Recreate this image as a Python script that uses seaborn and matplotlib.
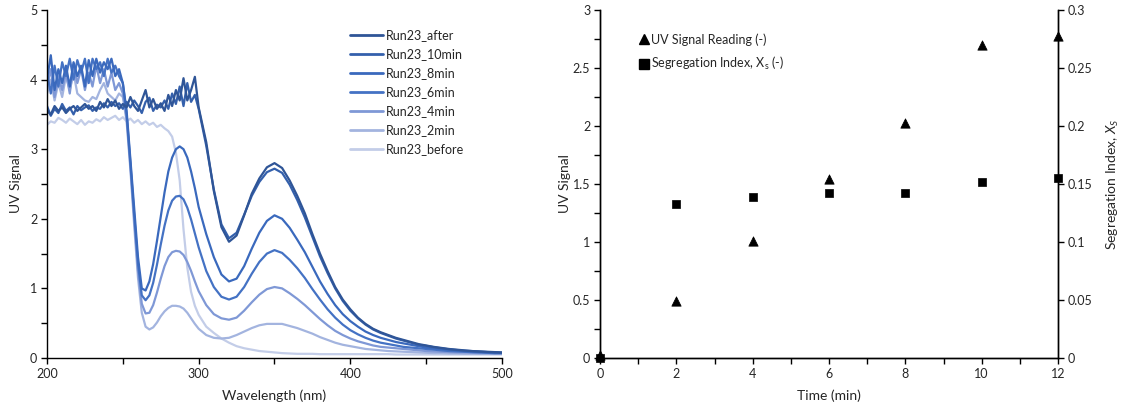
import numpy as np
import pandas as pd
import matplotlib
matplotlib.use("Agg")
import matplotlib.pyplot as plt
import seaborn as sns
from matplotlib.ticker import MultipleLocator, FuncFormatter
from matplotlib.lines import Line2D

# ---------------- data ----------------
wavelength = [200, 202.5, 205, 207.5, 210, 212.5, 215, 217.5, 220, 222.5,
              225, 227.5, 230, 232.5, 235, 237.5, 240, 242.5, 245, 247.5,
              250, 252.5, 255, 257.5, 260, 262.5, 265, 267.5, 270, 272.5,
              275, 277.5, 280, 282.5, 285, 287.5, 290, 292.5, 295, 297.5,
              300, 305, 310, 315, 320, 325, 330, 335, 340, 345,
              350, 355, 360, 365, 370, 375, 380, 385, 390, 395,
              400, 405, 410, 415, 420, 425, 430, 435, 440, 445,
              450, 455, 460, 465, 470, 475, 480, 485, 490, 495, 500]

run_after = [3.55, 3.50, 3.62, 3.55, 3.60, 3.52, 3.58, 3.62, 3.55, 3.60,
             3.65, 3.58, 3.62, 3.55, 3.68, 3.60, 3.72, 3.62, 3.70, 3.58,
             3.65, 3.60, 3.75, 3.62, 3.55, 3.70, 3.85, 3.60, 3.72, 3.58,
             3.66, 3.55, 3.78, 3.62, 3.85, 3.70, 4.02, 3.70, 3.85, 4.04,
             3.60, 3.10, 2.40, 1.88, 1.67, 1.76, 2.05, 2.36, 2.58, 2.74,
             2.80, 2.73, 2.55, 2.33, 2.08, 1.78, 1.50, 1.25, 1.02, 0.84,
             0.70, 0.58, 0.49, 0.42, 0.37, 0.33, 0.29, 0.26, 0.23, 0.20,
             0.18, 0.16, 0.145, 0.13, 0.12, 0.11, 0.10, 0.095, 0.09, 0.085, 0.08]

run_10min = [3.62, 3.48, 3.58, 3.52, 3.65, 3.55, 3.60, 3.50, 3.62, 3.56,
             3.60, 3.63, 3.55, 3.60, 3.58, 3.66, 3.60, 3.68, 3.62, 3.66,
             3.58, 3.68, 3.60, 3.70, 3.62, 3.52, 3.68, 3.74, 3.55, 3.64,
             3.60, 3.70, 3.58, 3.80, 3.65, 3.90, 3.62, 3.95, 3.68, 3.78,
             3.58, 3.05, 2.42, 1.92, 1.72, 1.80, 2.06, 2.33, 2.53, 2.67,
             2.72, 2.66, 2.49, 2.27, 2.02, 1.74, 1.46, 1.22, 1.00, 0.82,
             0.68, 0.57, 0.48, 0.41, 0.36, 0.32, 0.28, 0.25, 0.22, 0.19,
             0.175, 0.155, 0.14, 0.125, 0.115, 0.105, 0.10, 0.09, 0.085, 0.08, 0.075]

run_8min = [4.00, 4.35, 3.85, 4.15, 3.95, 4.20, 3.90, 4.25, 4.05, 4.20,
            3.90, 4.28, 4.05, 4.30, 4.10, 4.25, 4.15, 4.30, 4.05, 4.15,
            3.95, 3.55, 2.85, 2.15, 1.45, 1.00, 0.97, 1.10, 1.35, 1.68,
            2.03, 2.38, 2.68, 2.88, 3.00, 3.04, 3.00, 2.88, 2.68, 2.44,
            2.17, 1.78, 1.45, 1.20, 1.10, 1.14, 1.32, 1.57, 1.80, 1.97,
            2.05, 2.00, 1.87, 1.70, 1.52, 1.31, 1.10, 0.92, 0.76, 0.63,
            0.53, 0.45, 0.38, 0.33, 0.29, 0.26, 0.23, 0.21, 0.19, 0.17,
            0.15, 0.14, 0.13, 0.12, 0.11, 0.10, 0.095, 0.09, 0.085, 0.08, 0.075]

run_6min = [4.10, 3.80, 4.20, 3.90, 4.25, 4.05, 4.30, 4.00, 4.28, 4.10,
            4.30, 3.95, 4.30, 4.15, 4.25, 4.05, 4.30, 4.10, 4.20, 4.05,
            3.95, 3.50, 2.80, 2.05, 1.35, 0.90, 0.83, 0.90, 1.08, 1.34,
            1.63, 1.90, 2.12, 2.26, 2.32, 2.33, 2.28, 2.16, 1.99, 1.79,
            1.59, 1.25, 1.02, 0.88, 0.84, 0.88, 1.02, 1.21, 1.38, 1.50,
            1.55, 1.51, 1.41, 1.29, 1.15, 0.99, 0.84, 0.70, 0.58, 0.48,
            0.40, 0.34, 0.29, 0.25, 0.22, 0.20, 0.18, 0.16, 0.15, 0.14,
            0.13, 0.12, 0.11, 0.10, 0.095, 0.09, 0.085, 0.08, 0.075, 0.07, 0.07]

run_4min = [3.90, 4.15, 3.75, 4.05, 3.85, 4.10, 3.80, 4.20, 3.95, 4.15,
            3.85, 4.10, 3.90, 4.20, 3.95, 4.15, 3.90, 4.10, 3.85, 3.95,
            3.80, 3.45, 2.75, 2.00, 1.25, 0.78, 0.64, 0.65, 0.76, 0.94,
            1.14, 1.32, 1.45, 1.52, 1.54, 1.53, 1.48, 1.38, 1.25, 1.10,
            0.96, 0.76, 0.63, 0.57, 0.55, 0.58, 0.68, 0.80, 0.91, 0.99,
            1.02, 1.00, 0.93, 0.85, 0.76, 0.66, 0.56, 0.47, 0.39, 0.33,
            0.28, 0.24, 0.21, 0.18, 0.16, 0.15, 0.14, 0.13, 0.12, 0.11,
            0.10, 0.095, 0.09, 0.085, 0.08, 0.08, 0.075, 0.07, 0.07, 0.065, 0.065]

run_2min = [3.80, 4.00, 3.70, 3.95, 3.75, 4.05, 3.85, 4.10, 3.80, 3.75,
            3.70, 3.68, 3.75, 3.72, 3.85, 3.95, 3.80, 3.75, 3.70, 3.80,
            3.75, 3.40, 2.70, 1.90, 1.15, 0.65, 0.45, 0.41, 0.44, 0.51,
            0.60, 0.67, 0.72, 0.75, 0.75, 0.74, 0.71, 0.65, 0.57, 0.49,
            0.42, 0.33, 0.29, 0.28, 0.29, 0.33, 0.38, 0.43, 0.47, 0.49,
            0.49, 0.49, 0.46, 0.43, 0.39, 0.35, 0.30, 0.26, 0.22, 0.19,
            0.17, 0.15, 0.13, 0.12, 0.11, 0.10, 0.095, 0.09, 0.085, 0.08,
            0.075, 0.07, 0.07, 0.065, 0.065, 0.06, 0.06, 0.06, 0.06, 0.06, 0.06]

run_before = [3.35, 3.40, 3.38, 3.45, 3.42, 3.38, 3.44, 3.40, 3.36, 3.42,
              3.35, 3.40, 3.38, 3.43, 3.40, 3.46, 3.42, 3.45, 3.48, 3.42,
              3.46, 3.40, 3.44, 3.38, 3.42, 3.36, 3.40, 3.35, 3.38, 3.32,
              3.35, 3.30, 3.26, 3.18, 2.95, 2.55, 1.85, 1.30, 0.95, 0.75,
              0.62, 0.45, 0.36, 0.28, 0.22, 0.17, 0.14, 0.12, 0.10, 0.09,
              0.08, 0.07, 0.065, 0.06, 0.06, 0.06, 0.055, 0.055, 0.055, 0.055,
              0.055, 0.055, 0.055, 0.055, 0.055, 0.055, 0.05, 0.05, 0.05, 0.05,
              0.05, 0.05, 0.05, 0.05, 0.05, 0.05, 0.05, 0.05, 0.05, 0.05, 0.05]

run_names = ["Run23_after", "Run23_10min", "Run23_8min", "Run23_6min",
             "Run23_4min", "Run23_2min", "Run23_before"]
run_values = [run_after, run_10min, run_8min, run_6min, run_4min, run_2min, run_before]
run_colors = ["#2F5597", "#3460AC", "#3A69BD", "#4472C4", "#7F98D6", "#A3B4DF", "#C3CDE8"]

time_min = [0, 2, 4, 6, 8, 10, 12]
uv_reading = [0.03, 0.49, 1.01, 1.54, 2.03, 2.70, 2.78]
seg_index = [0.0, 0.133, 0.139, 0.142, 0.142, 0.152, 0.155]

# ---------------- style ----------------
sns.set_theme(style="ticks")
FONT = ["Lato", "DejaVu Sans"]
plt.rcParams["font.family"] = FONT
plt.rcParams["mathtext.fontset"] = "custom"
plt.rcParams["mathtext.rm"] = "Lato"
plt.rcParams["mathtext.it"] = "Lato:italic"
FS = 9       # ticks / legend
FT = 10      # axis titles
TXT = "#262626"

fig = plt.figure(figsize=(11.25, 4.11), dpi=100)
W, H = 1125, 411
ax1 = fig.add_axes([47 / W, 1 - 358 / H, 455 / W, 348 / H])
ax2 = fig.add_axes([600 / W, 1 - 358 / H, 458 / W, 348 / H])

# ---------------- left: spectra ----------------
frames = []
for name, vals in zip(run_names, run_values):
    frames.append(pd.DataFrame({"Wavelength": wavelength, "Signal": vals, "Run": name}))
spec = pd.concat(frames, ignore_index=True)

sns.lineplot(data=spec, x="Wavelength", y="Signal", hue="Run",
             hue_order=run_names[::-1], palette=run_colors[::-1],
             estimator=None, sort=False, lw=1.6, ax=ax1, legend=False)

ax1.set_xlim(200, 500)
ax1.set_ylim(0, 5)
ax1.xaxis.set_major_locator(MultipleLocator(100))
ax1.xaxis.set_minor_locator(MultipleLocator(50))
ax1.yaxis.set_major_locator(MultipleLocator(1))
ax1.yaxis.set_minor_locator(MultipleLocator(0.5))
ax1.set_xlabel("Wavelength (nm)", fontsize=FT, color=TXT, labelpad=7)
ax1.set_ylabel("UV Signal", fontsize=FT, color=TXT, labelpad=6)
sns.despine(ax=ax1)

handles = [Line2D([], [], color=c, lw=2) for c in run_colors]
ax1.legend(handles, run_names, loc="upper left", bbox_to_anchor=(0.655, 0.96),
           frameon=False, fontsize=FS, handlelength=2.6, handletextpad=0.25,
           labelspacing=0.56, borderaxespad=0)

# ---------------- right: time series ----------------
ts = pd.DataFrame({"Time": time_min, "UV": uv_reading, "Seg": seg_index})
ax2b = ax2.twinx()
sns.scatterplot(data=ts, x="Time", y="UV", marker="^", s=45, color="black",
                edgecolor="black", ax=ax2, clip_on=False, zorder=5)
sns.scatterplot(data=ts, x="Time", y="Seg", marker="s", s=38, color="black",
                edgecolor="black", ax=ax2b, clip_on=False, zorder=5)

ax2.set_xlim(0, 12)
ax2.set_ylim(0, 3)
ax2b.set_ylim(0, 0.3)
ax2.xaxis.set_major_locator(MultipleLocator(2))
ax2.xaxis.set_minor_locator(MultipleLocator(1))
ax2.yaxis.set_major_locator(MultipleLocator(0.5))
ax2.yaxis.set_minor_locator(MultipleLocator(0.25))
ax2b.yaxis.set_major_locator(MultipleLocator(0.05))
fmt = FuncFormatter(lambda v, p: f"{round(v, 4):g}")
ax2.yaxis.set_major_formatter(fmt)
ax2b.yaxis.set_major_formatter(fmt)
ax2.set_xlabel("Time (min)", fontsize=FT, color=TXT, labelpad=7)
ax2.set_ylabel("UV Signal", fontsize=FT, color=TXT, labelpad=1)
ax2b.set_ylabel(r"Segregation Index, $X_S$", fontsize=FT, color=TXT, labelpad=9)
for a in (ax2, ax2b):
    a.spines["top"].set_visible(False)

leg_h = [Line2D([], [], marker="^", color="black", ls="none", markersize=7),
         Line2D([], [], marker="s", color="black", ls="none", markersize=6.5)]
ax2.legend(leg_h, ["UV Signal Reading (-)", r"Segregation Index, X$_\mathregular{s}$ (-)"],
           loc="upper left", bbox_to_anchor=(0.075, 0.948), frameon=False,
           fontsize=FS, handlelength=0.8, handletextpad=0.15, labelspacing=0.75,
           borderaxespad=0)

for a in (ax1, ax2, ax2b):
    for s in a.spines.values():
        s.set_color("black")
        s.set_linewidth(1.0)
    a.tick_params(which="both", direction="out", length=4, width=1.0,
                  color="black", labelsize=FS, labelcolor=TXT, pad=3)

fig.savefig("out.png", dpi=100)
